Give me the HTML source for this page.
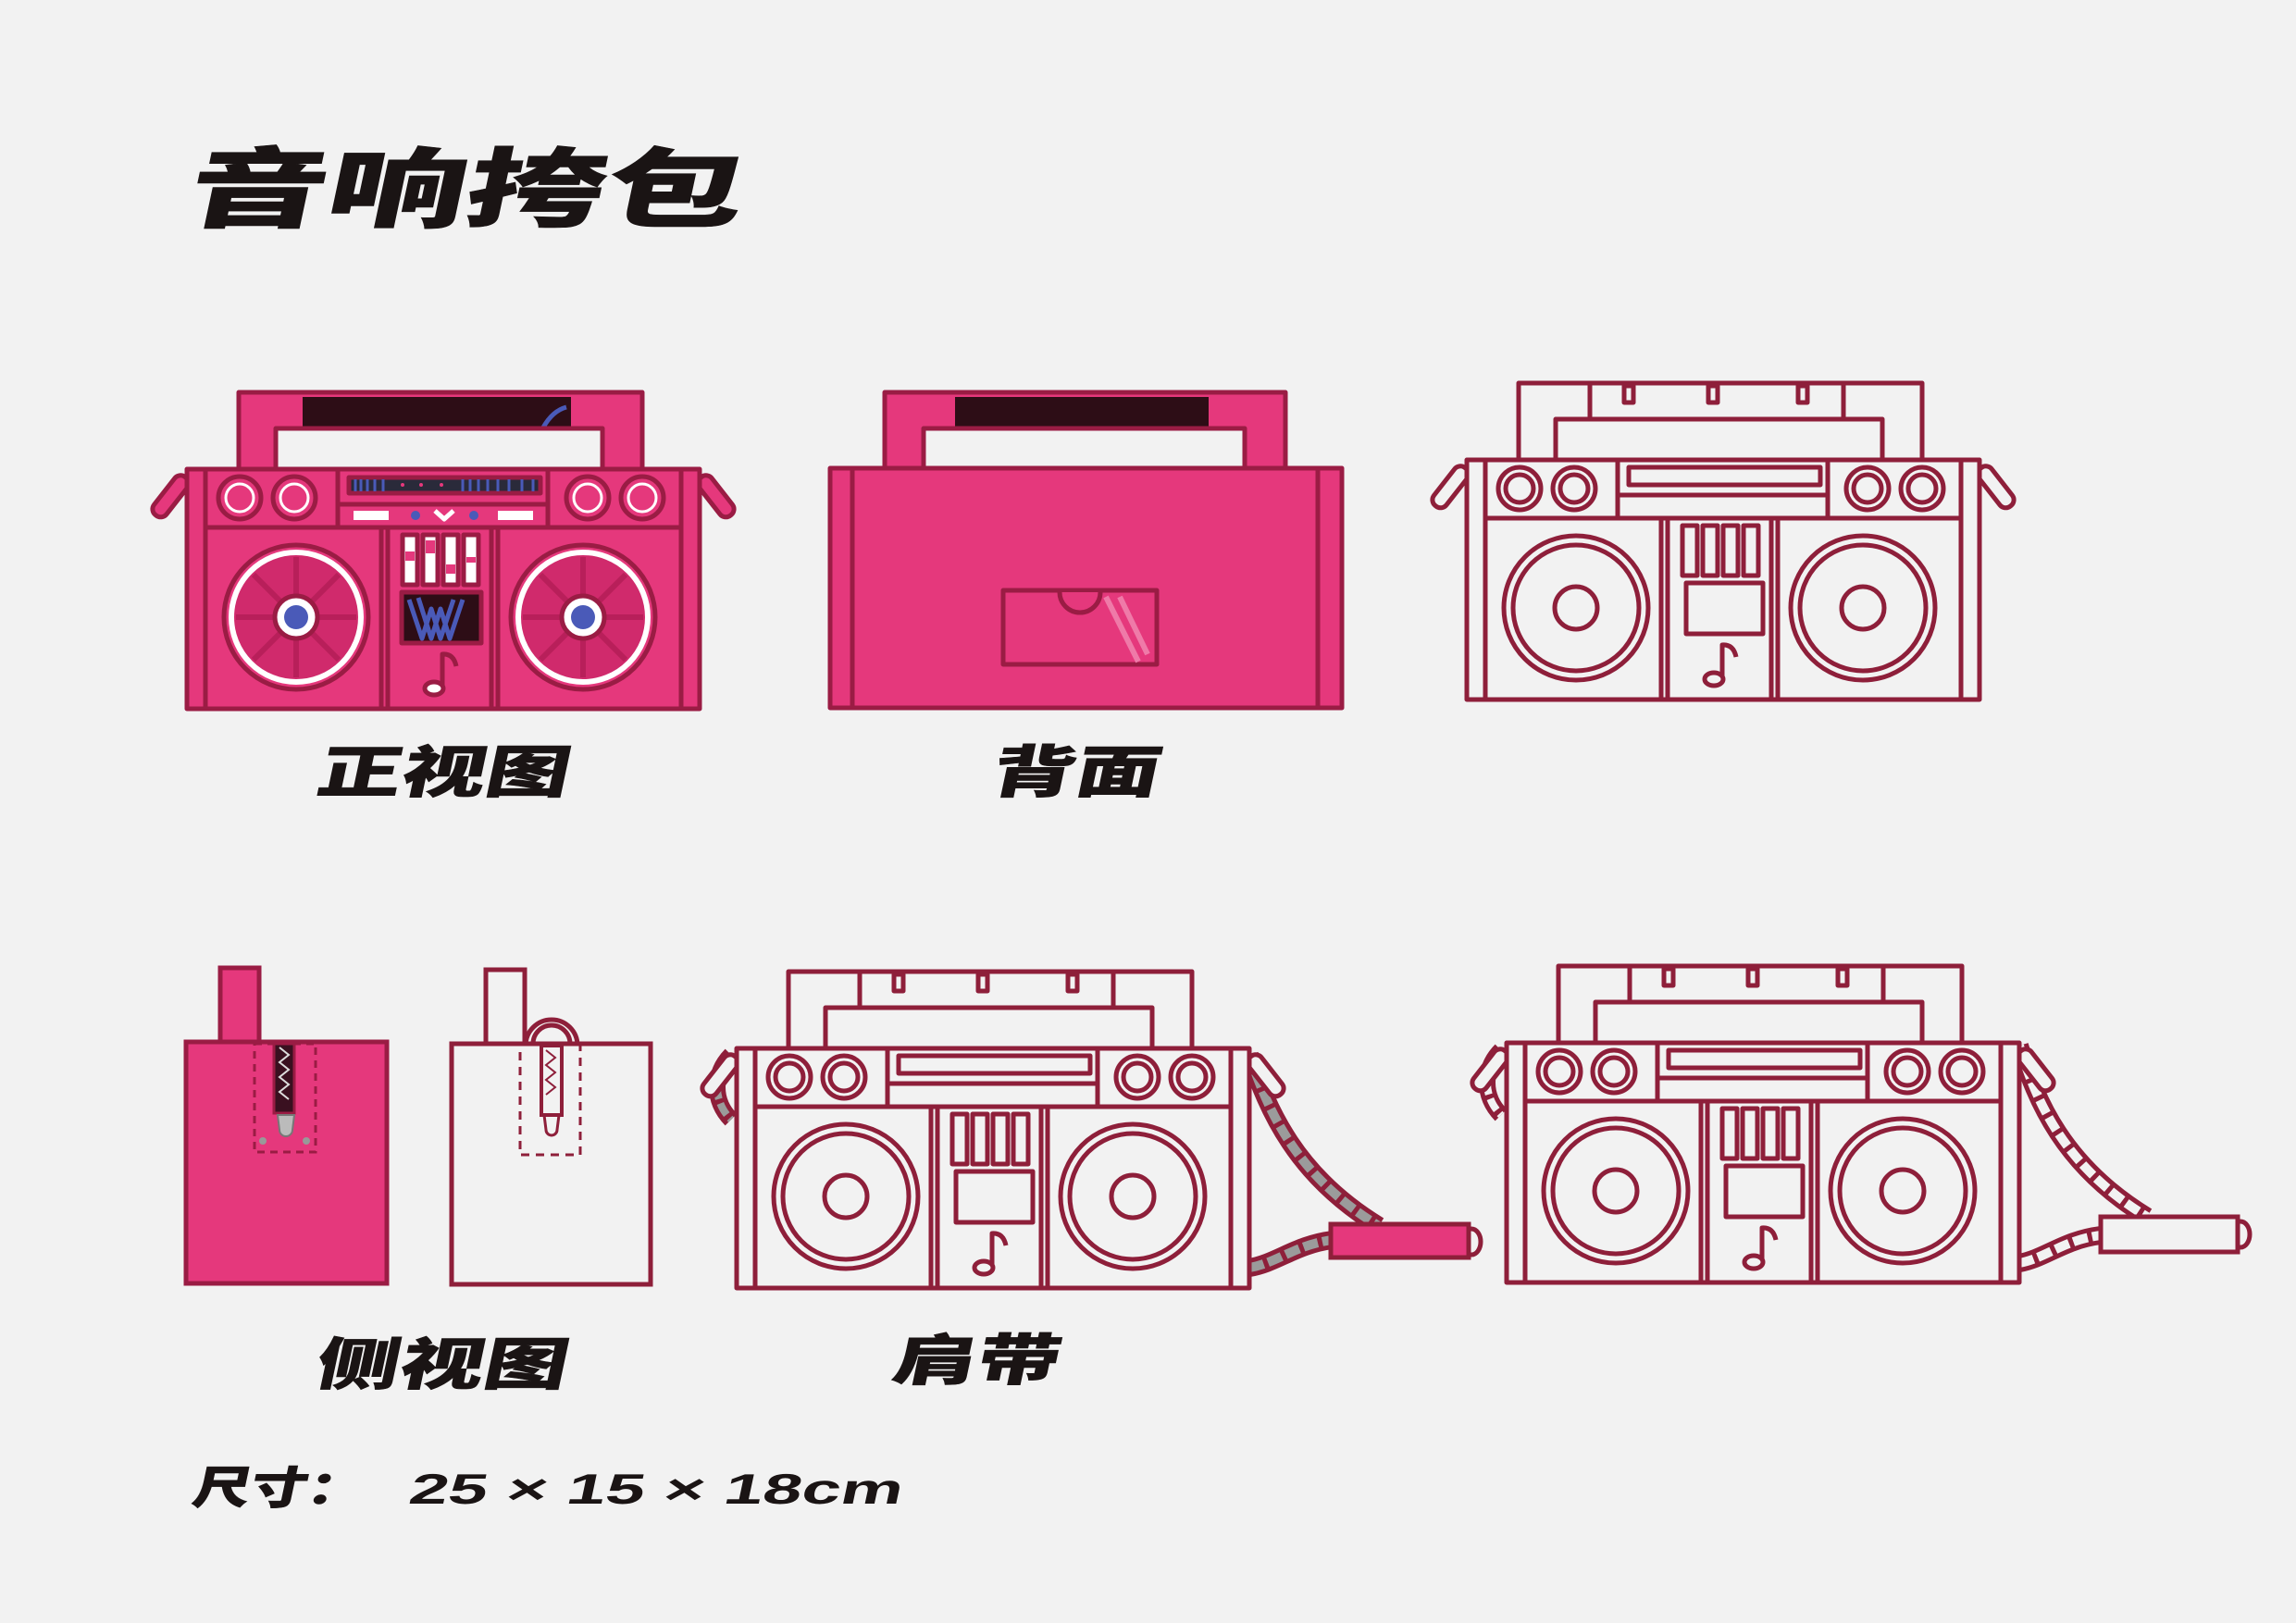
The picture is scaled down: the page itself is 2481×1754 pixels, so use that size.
<!DOCTYPE html>
<html><head><meta charset="utf-8"><style>
html,body{margin:0;padding:0;background:#f2f2f2;}
svg{display:block;}
.cj{font-family:"Liberation Sans","Noto Sans CJK SC","WenQuanYi Zen Hei",sans-serif;font-weight:900;fill:#1a1414;stroke:#1a1414;stroke-width:0.5;}
</style></head><body>
<svg width="2481" height="1754" viewBox="0 0 2481 1754" xmlns="http://www.w3.org/2000/svg">
<rect width="2481" height="1754" fill="#f2f2f2"/>
<defs>
<g id="ob" fill="none" stroke="#8e1f3a" stroke-width="5" stroke-linejoin="round">
  <rect x="-26" y="86" width="17" height="52" rx="8" transform="rotate(38 -18 112)" fill="#f2f2f2"/>
  <rect x="563" y="86" width="17" height="52" rx="8" transform="rotate(-38 572 112)" fill="#f2f2f2"/>
  <rect x="56" y="0" width="436" height="90"/>
  <line x1="133" y1="0" x2="133" y2="39"/><line x1="407" y1="0" x2="407" y2="39"/>
  <rect x="96" y="39" width="353" height="50" fill="#f2f2f2"/>
  <rect x="170" y="3" width="10" height="18"/><rect x="261" y="3" width="10" height="18"/><rect x="358" y="3" width="10" height="18"/>
  <rect x="0" y="83" width="554" height="259" fill="#f2f2f2"/>
  <line x1="20" y1="83" x2="20" y2="342"/><line x1="534" y1="83" x2="534" y2="342"/>
  <line x1="20" y1="146" x2="534" y2="146"/>
  <line x1="163" y1="83" x2="163" y2="146"/><line x1="390" y1="83" x2="390" y2="146"/>
  <rect x="175" y="91" width="207" height="19"/>
  <line x1="163" y1="121" x2="390" y2="121"/>
  <circle cx="57" cy="114" r="23"/><circle cx="57" cy="114" r="15"/>
  <circle cx="116" cy="114" r="23"/><circle cx="116" cy="114" r="15"/>
  <circle cx="433" cy="114" r="23"/><circle cx="433" cy="114" r="15"/>
  <circle cx="492" cy="114" r="23"/><circle cx="492" cy="114" r="15"/>
  <line x1="210" y1="146" x2="210" y2="342"/><line x1="217" y1="146" x2="217" y2="342"/>
  <line x1="329" y1="146" x2="329" y2="342"/><line x1="336" y1="146" x2="336" y2="342"/>
  <rect x="233" y="154" width="16" height="54"/><rect x="255" y="154" width="16" height="54"/>
  <rect x="277" y="154" width="16" height="54"/><rect x="299" y="154" width="16" height="54"/>
  <rect x="237" y="216" width="83" height="55"/>
  <ellipse cx="267" cy="320" rx="10" ry="7"/>
  <path d="M276 318 V283 Q288 282 291 296"/>
  <circle cx="118" cy="243" r="78"/><circle cx="118" cy="243" r="68"/><circle cx="118" cy="243" r="23"/>
  <circle cx="428" cy="243" r="78"/><circle cx="428" cy="243" r="68"/><circle cx="428" cy="243" r="23"/>
</g>
</defs>

<!-- Title -->
<g transform="translate(198,238) skewX(-12)"><text class="cj" x="0" y="0" font-size="94" textLength="600" lengthAdjust="spacingAndGlyphs">音响挎包</text></g>

<!-- Front pink -->
<g transform="translate(202,424)" stroke="#9a1c44" stroke-width="5" stroke-linejoin="round">
  <rect x="-26" y="86" width="17" height="52" rx="8" transform="rotate(38 -18 112)" fill="#e5387c"/>
  <rect x="563" y="86" width="17" height="52" rx="8" transform="rotate(-38 572 112)" fill="#e5387c"/>
  <rect x="56" y="0" width="436" height="90" fill="#e5387c"/>
  <rect x="125" y="5" width="290" height="34" fill="#2d0d16" stroke="none"/>
  <path d="M385 38 q10 -18 25 -22" stroke="#4a5ab8" stroke-width="5" fill="none"/>
  <rect x="96" y="39" width="353" height="50" fill="#f2f2f2"/>
  <rect x="0" y="83" width="554" height="259" fill="#e5387c"/>
  <line x1="20" y1="83" x2="20" y2="342"/><line x1="534" y1="83" x2="534" y2="342"/>
  <line x1="20" y1="146" x2="534" y2="146"/>
  <line x1="163" y1="83" x2="163" y2="146"/><line x1="390" y1="83" x2="390" y2="146"/>
  <rect x="175" y="92" width="207" height="17" fill="#2a2a3a"/>
  <g stroke="#4a5ab8" stroke-width="3"><line x1="182" y1="94" x2="182" y2="107"/><line x1="188" y1="94" x2="188" y2="107"/><line x1="195" y1="94" x2="195" y2="107"/><line x1="203" y1="94" x2="203" y2="107"/><line x1="212" y1="94" x2="212" y2="107"/><line x1="298" y1="94" x2="298" y2="107"/><line x1="306" y1="94" x2="306" y2="107"/><line x1="315" y1="94" x2="315" y2="107"/><line x1="325" y1="94" x2="325" y2="107"/><line x1="336" y1="94" x2="336" y2="107"/><line x1="348" y1="94" x2="348" y2="107"/><line x1="362" y1="94" x2="362" y2="107"/><line x1="374" y1="94" x2="374" y2="107"/></g>
  <circle cx="233" cy="100" r="2" fill="#e5387c" stroke="none"/><circle cx="253" cy="100" r="2" fill="#e5387c" stroke="none"/><circle cx="275" cy="100" r="2" fill="#e5387c" stroke="none"/>
  <line x1="163" y1="121" x2="390" y2="121"/>
  <rect x="180" y="128" width="38" height="10" fill="#fff" stroke="none"/><rect x="336" y="128" width="38" height="10" fill="#fff" stroke="none"/>
  <circle cx="247" cy="133" r="5" fill="#4a5ab8" stroke="none"/><circle cx="310" cy="133" r="5" fill="#4a5ab8" stroke="none"/>
  <path d="M268 128 l10 9 l10 -9" stroke="#fff" stroke-width="5" fill="none"/>
  <g fill="#e5387c">
  <circle cx="57" cy="114" r="23"/><circle cx="57" cy="114" r="15" stroke="#fff" stroke-width="3"/>
  <circle cx="116" cy="114" r="23"/><circle cx="116" cy="114" r="15" stroke="#fff" stroke-width="3"/>
  <circle cx="433" cy="114" r="23"/><circle cx="433" cy="114" r="15" stroke="#fff" stroke-width="3"/>
  <circle cx="492" cy="114" r="23"/><circle cx="492" cy="114" r="15" stroke="#fff" stroke-width="3"/>
  </g>
  <line x1="210" y1="146" x2="210" y2="342"/><line x1="217" y1="146" x2="217" y2="342"/>
  <line x1="329" y1="146" x2="329" y2="342"/><line x1="336" y1="146" x2="336" y2="342"/>
  <g fill="#fff"><rect x="233" y="154" width="16" height="54"/><rect x="255" y="154" width="16" height="54"/><rect x="277" y="154" width="16" height="54"/><rect x="299" y="154" width="16" height="54"/></g>
  <g fill="#e5387c" stroke="none"><rect x="236" y="172" width="10" height="10"/><rect x="258" y="160" width="10" height="14"/><rect x="280" y="186" width="10" height="10"/><rect x="302" y="178" width="10" height="6"/></g>
  <rect x="232" y="216" width="86" height="55" fill="#2d0d16"/>
  <path d="M240 224 l14 42 l10 -32 l10 32 l14 -42 M250 222 l14 44 l10 -32 l10 32 l14 -42" stroke="#4a5ab8" stroke-width="5" fill="none"/>
  <ellipse cx="267" cy="320" rx="10" ry="7" fill="#fff"/>
  <path d="M276 318 V283 Q288 282 291 296" fill="none"/>
  <g>
  <circle cx="118" cy="243" r="78" fill="#e5387c"/><circle cx="118" cy="243" r="70" fill="#d02a6c" stroke="#fff" stroke-width="6"/>
  <g stroke="#b81f5a" stroke-width="6"><line x1="118" y1="178" x2="118" y2="308"/><line x1="53" y1="243" x2="183" y2="243"/><line x1="72" y1="197" x2="164" y2="289"/><line x1="164" y1="197" x2="72" y2="289"/></g>
  <circle cx="118" cy="243" r="23" fill="#fff"/><circle cx="118" cy="243" r="13" fill="#4a5ab8" stroke="none"/>
  <circle cx="428" cy="243" r="78" fill="#e5387c"/><circle cx="428" cy="243" r="70" fill="#d02a6c" stroke="#fff" stroke-width="6"/>
  <g stroke="#b81f5a" stroke-width="6"><line x1="428" y1="178" x2="428" y2="308"/><line x1="363" y1="243" x2="493" y2="243"/><line x1="382" y1="197" x2="474" y2="289"/><line x1="474" y1="197" x2="382" y2="289"/></g>
  <circle cx="428" cy="243" r="23" fill="#fff"/><circle cx="428" cy="243" r="13" fill="#4a5ab8" stroke="none"/>
  </g>
</g>

<!-- Back pink -->
<g stroke="#9a1c44" stroke-width="5" stroke-linejoin="round">
  <rect x="956" y="424" width="433" height="88" fill="#e5387c"/>
  <rect x="1032" y="429" width="274" height="33" fill="#2d0d16" stroke="none"/>
  <rect x="998" y="463" width="347" height="46" fill="#f2f2f2"/>
  <rect x="897" y="506" width="553" height="259" fill="#e5387c"/>
  <line x1="921" y1="506" x2="921" y2="765"/><line x1="1424" y1="506" x2="1424" y2="765"/>
  <rect x="1084" y="638" width="166" height="80" fill="#e5387c"/>
  <path d="M1145 640 a22 22 0 0 0 44 0" fill="#e5387c"/>
  <path d="M1195 645 l35 70 M1210 645 l30 62" stroke="#ef7aa8" stroke-width="6"/>
</g>

<!-- Top-right outline -->
<use href="#ob" x="1585" y="414"/>

<!-- Side pink -->
<g stroke="#9a1c44" stroke-width="5">
  <rect x="238" y="1046" width="42" height="80" fill="#e5387c"/>
  <rect x="201" y="1126" width="217" height="261" fill="#e5387c"/>
  <rect x="275" y="1128" width="66" height="117" fill="none" stroke-dasharray="8 6" stroke-width="3"/>
  <rect x="296" y="1128" width="22" height="75" fill="#3a1020" stroke-width="3"/>
  <path d="M302 1132 l10 8 l-10 8 l10 8 l-10 8 l10 8 l-10 8 l10 8" stroke="#ddd" stroke-width="2" fill="none"/>
  <path d="M300 1205 h18 l-2 16 a7 7 0 0 1 -14 0 z" fill="#bbb" stroke="#777" stroke-width="2"/>
  <circle cx="284" cy="1233" r="4" fill="#999" stroke="none"/><circle cx="331" cy="1233" r="4" fill="#999" stroke="none"/>
</g>
<!-- Side outline -->
<g stroke="#8e1f3a" stroke-width="5" fill="none">
  <rect x="525" y="1048" width="42" height="80"/>
  <rect x="488" y="1128" width="215" height="260" fill="#f2f2f2"/>
  <path d="M576 1128 a20 20 0 0 1 40 0" /><path d="M568 1130 a28 28 0 0 1 56 0"/>
  <rect x="562" y="1128" width="65" height="120" stroke-dasharray="9 7" stroke-width="3"/>
  <rect x="585" y="1130" width="22" height="75" stroke-width="4"/>
  <path d="M590 1135 l10 8 l-10 8 l10 8 l-10 8 l10 8 l-10 8" stroke-width="2"/>
  <path d="M588 1205 h16 l-2 16 a6 6 0 0 1 -12 0 z" stroke-width="3"/>
</g>

<!-- Bottom-left boombox with chain -->
<g>
  <path d="M1350 1140 C1370 1200 1400 1270 1490 1325 M1350 1370 C1380 1365 1400 1345 1440 1340" fill="none" stroke="#8e1f3a" stroke-width="20"/>
  <path d="M1350 1140 C1370 1200 1400 1270 1490 1325 M1350 1370 C1380 1365 1400 1345 1440 1340" fill="none" stroke="#9b9b9b" stroke-width="10" stroke-dasharray="16 5"/>
  <path d="M790 1140 C770 1160 770 1190 790 1210" fill="none" stroke="#8e1f3a" stroke-width="18"/>
  <path d="M790 1140 C770 1160 770 1190 790 1210" fill="none" stroke="#9b9b9b" stroke-width="8" stroke-dasharray="14 5"/>
  <use href="#ob" x="796" y="1050"/>
  <ellipse cx="1590" cy="1342" rx="10" ry="14" fill="none" stroke="#8e1f3a" stroke-width="5"/>
  <rect x="1438" y="1323" width="149" height="36" fill="#e5387c" stroke="#8e1f3a" stroke-width="5"/>
</g>

<!-- Bottom-right boombox with chain -->
<g>
  <path d="M2182 1130 C2200 1190 2230 1260 2320 1315 M2182 1365 C2210 1360 2230 1340 2270 1335" fill="none" stroke="#8e1f3a" stroke-width="20"/>
  <path d="M2182 1130 C2200 1190 2230 1260 2320 1315 M2182 1365 C2210 1360 2230 1340 2270 1335" fill="none" stroke="#f2f2f2" stroke-width="10" stroke-dasharray="16 5"/>
  <path d="M1622 1135 C1602 1155 1602 1185 1622 1205" fill="none" stroke="#8e1f3a" stroke-width="18"/>
  <path d="M1622 1135 C1602 1155 1602 1185 1622 1205" fill="none" stroke="#f2f2f2" stroke-width="8" stroke-dasharray="14 5"/>
  <use href="#ob" x="1628" y="1044"/>
  <ellipse cx="2421" cy="1334" rx="10" ry="14" fill="none" stroke="#8e1f3a" stroke-width="5"/>
  <rect x="2270" y="1315" width="148" height="38" fill="#f2f2f2" stroke="#8e1f3a" stroke-width="5"/>
</g>

<!-- Labels -->
<g transform="translate(340,856) skewX(-12)"><text class="cj" font-size="61" textLength="272" lengthAdjust="spacingAndGlyphs">正视图</text></g>
<g transform="translate(1068,856) skewX(-12)"><text class="cj" font-size="61" textLength="182" lengthAdjust="spacingAndGlyphs">背面</text></g>
<g transform="translate(338,1496) skewX(-12)"><text class="cj" font-size="61" textLength="272" lengthAdjust="spacingAndGlyphs">侧视图</text></g>
<g transform="translate(962,1491) skewX(-12)"><text class="cj" font-size="60" textLength="180" lengthAdjust="spacingAndGlyphs">肩带</text></g>
<g transform="translate(206,1625) skewX(-12)"><text class="cj" font-size="48" textLength="185" lengthAdjust="spacingAndGlyphs">尺寸：</text></g>
<g transform="translate(440,1625) skewX(-12)"><text font-family="Liberation Sans, sans-serif" font-weight="bold" font-size="46" fill="#1a1414" textLength="533" lengthAdjust="spacingAndGlyphs">25 × 15 × 18cm</text></g>
</svg>
</body></html>
